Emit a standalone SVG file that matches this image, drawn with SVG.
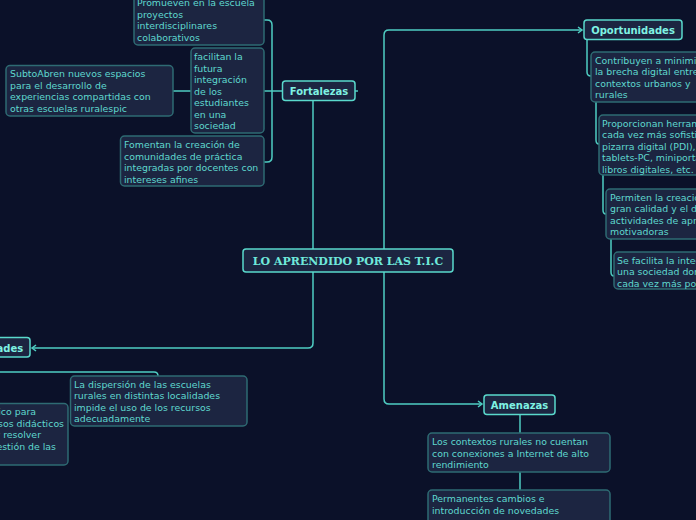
<svg xmlns="http://www.w3.org/2000/svg" width="696" height="520" viewBox="0 0 696 520">
<style>
.leaf rect{fill:#1c2541;stroke:#2e6b73;stroke-width:1.5}
.head rect{fill:#1c2541;stroke:#5ad9cc;stroke-width:1.5}
.leaf text{font-family:"DejaVu Sans",Verdana,sans-serif;font-size:9.4px;fill:#5fd8cf}
.head text{font-family:"DejaVu Sans",Verdana,sans-serif;font-size:10px;font-weight:bold;fill:#7ff2e3;text-anchor:middle}
.title text{font-family:"DejaVu Serif","Liberation Serif",serif;font-size:11px;font-weight:bold;fill:#6fe8da;text-anchor:middle}
.conn path{fill:none;stroke:#4fcdc2;stroke-width:1.5}
</style>
<defs>
<marker id="arr" markerWidth="8" markerHeight="8" refX="5" refY="4" orient="auto" markerUnits="userSpaceOnUse">
<path d="M1,1 L5,4 L1,7" fill="none" stroke="#4fcdc2" stroke-width="1.5"/>
</marker>
</defs>
<rect x="0" y="0" width="696" height="520" fill="#0b1129"/>

<g id="connectors" class="conn">
<path d="M313,249 V100"/>
<path d="M313,272 V343 Q313,348 308,348 H32" marker-end="url(#arr)"/>
<path d="M384,249 V35 Q384,30 389,30 H582" marker-end="url(#arr)"/>
<path d="M384,272 V399 Q384,404 389,404 H482" marker-end="url(#arr)"/>
<path d="M355,91 H358"/>
<path d="M283,91 H264"/>
<path d="M272,91 V25 Q272,20 267,20 H264"/>
<path d="M272,91 V157 Q272,162 267,162 H264"/>
<path d="M191,91 H173"/>
<path d="M587,39 V72 Q587,76 591,76"/>
<path d="M596,102 V140 Q596,144 599,144"/>
<path d="M603,175 V210 Q603,214 606,214"/>
<path d="M611,239 V272 Q611,276 614,276"/>
<path d="M520,414 V433"/>
<path d="M520,472 V490"/>
<path d="M-10,372 H154 Q158,372 158,376"/>
</g>

<g id="center" class="title">
<rect x="243" y="249" width="210" height="23" rx="3" fill="#1c2541" stroke="#5ad9cc" stroke-width="1.5"/>
<text x="348" y="264.5">LO APRENDIDO POR LAS T.I.C</text>
</g>

<g id="fortalezas" class="head">
<rect x="282.5" y="81" width="72.5" height="19.5" rx="3"/>
<text x="319" y="95">Fortalezas</text>
</g>
<g id="oportunidades" class="head">
<rect x="584" y="20" width="98" height="19.5" rx="3"/>
<text x="633" y="34">Oportunidades</text>
</g>
<g id="amenazas" class="head">
<rect x="484" y="395" width="71" height="19.5" rx="3"/>
<text x="519.5" y="409">Amenazas</text>
</g>
<g id="debilidades" class="head">
<rect x="-50" y="337.5" width="80" height="19.5" rx="3"/>
<text x="-10" y="352">Debilidades</text>
</g>

<g id="promueven" class="leaf">
<rect x="134" y="-20" width="130" height="65" rx="4"/>
<text x="137" y="6">Promueven en la escuela<tspan x="137" dy="11.5">proyectos</tspan><tspan x="137" dy="11.5">interdisciplinares</tspan><tspan x="137" dy="11.5">colaborativos</tspan></text>
</g>
<g id="facilitan" class="leaf">
<rect x="191" y="48" width="73" height="85" rx="4"/>
<text x="194" y="60">facilitan la<tspan x="194" dy="11.5">futura</tspan><tspan x="194" dy="11.5">integración</tspan><tspan x="194" dy="11.5">de los</tspan><tspan x="194" dy="11.5">estudiantes</tspan><tspan x="194" dy="11.5">en una</tspan><tspan x="194" dy="11.5">sociedad</tspan></text>
</g>
<g id="subtoabren" class="leaf">
<rect x="6" y="65.5" width="167" height="50.5" rx="4"/>
<text x="10" y="77">SubtoAbren nuevos espacios<tspan x="10" dy="11.5">para el desarrollo de</tspan><tspan x="10" dy="11.5">experiencias compartidas con</tspan><tspan x="10" dy="11.5">otras escuelas ruralespic</tspan></text>
</g>
<g id="fomentan" class="leaf">
<rect x="120.5" y="136" width="143.5" height="50" rx="4"/>
<text x="124" y="148">Fomentan la creación de<tspan x="124" dy="11.5">comunidades de práctica</tspan><tspan x="124" dy="11.5">integradas por docentes con</tspan><tspan x="124" dy="11.5">intereses afines</tspan></text>
</g>

<g id="contribuyen" class="leaf">
<rect x="591" y="52" width="140" height="50" rx="4"/>
<text x="595" y="63.5">Contribuyen a minimizar<tspan x="595" dy="11.5">la brecha digital entre</tspan><tspan x="595" dy="11.5">contextos urbanos y</tspan><tspan x="595" dy="11.5">rurales</tspan></text>
</g>
<g id="proporcionan" class="leaf">
<rect x="599" y="115" width="140" height="60" rx="4"/>
<text x="602" y="126.5">Proporcionan herramientas<tspan x="602" dy="11.6">cada vez más sofisticadas:</tspan><tspan x="602" dy="11.6">pizarra digital (PDI),</tspan><tspan x="602" dy="11.6">tablets-PC, miniportátiles,</tspan><tspan x="602" dy="11.6">libros digitales, etc.</tspan></text>
</g>
<g id="permiten" class="leaf">
<rect x="606" y="189" width="140" height="50" rx="4"/>
<text x="610" y="200.5">Permiten la creación de<tspan x="610" dy="11.5">gran calidad y el desarrollo de</tspan><tspan x="610" dy="11.5">actividades de aprendizaje</tspan><tspan x="610" dy="11.5">motivadoras</tspan></text>
</g>
<g id="sefacilita" class="leaf">
<rect x="614" y="252" width="140" height="37" rx="4"/>
<text x="617" y="263.5">Se facilita la integración en<tspan x="617" dy="11.8">una sociedad dominada</tspan><tspan x="617" dy="11.8">cada vez más por las TIC</tspan></text>
</g>

<g id="dispersion" class="leaf">
<rect x="70.5" y="376" width="176.5" height="50" rx="4"/>
<text x="74" y="387.5">La dispersión de las escuelas<tspan x="74" dy="11.5">rurales en distintas localidades</tspan><tspan x="74" dy="11.5">impide el uso de los recursos</tspan><tspan x="74" dy="11.5">adecuadamente</tspan></text>
</g>
<g id="apoyo" class="leaf">
<rect x="-80" y="403.5" width="148" height="61.5" rx="4"/>
<text x="36" y="415" text-anchor="end">Falta de apoyo técnico para</text>
<text x="64" y="426.5" text-anchor="end">el uso de recursos didácticos</text>
<text x="41" y="438" text-anchor="end">y tecnológicos y resolver</text>
<text x="56" y="449.5" text-anchor="end">problemas de gestión de las</text>
</g>

<g id="contextos" class="leaf">
<rect x="428" y="433" width="182" height="39" rx="4"/>
<text x="432" y="445">Los contextos rurales no cuentan<tspan x="432" dy="11.5">con conexiones a Internet de alto</tspan><tspan x="432" dy="11.5">rendimiento</tspan></text>
</g>
<g id="permanentes" class="leaf">
<rect x="428" y="490" width="182" height="45" rx="4"/>
<text x="432" y="502">Permanentes cambios e<tspan x="432" dy="11.8">introducción de novedades</tspan></text>
</g>
</svg>
